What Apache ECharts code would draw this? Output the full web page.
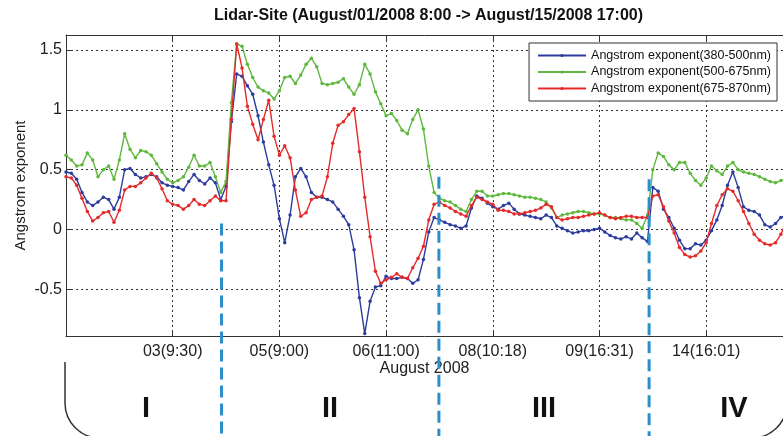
<!DOCTYPE html>
<html><head><meta charset="utf-8">
<script src="https://cdn.jsdelivr.net/npm/echarts@6/dist/echarts.min.js"></script>
<style>html,body{margin:0;padding:0;background:#fff}#c{width:783px;height:436px}</style>
</head><body><div id="c"></div>
<script>
// x ticks (every 20 samples)
const tickLabels = ['', '03(9:30)', '05(9:00)', '06(11:00)', '08(10:18)', '09(16:31)', '14(16:01)'];
const seriesNames = ['Angstrom exponent(380-500nm)', 'Angstrom exponent(500-675nm)', 'Angstrom exponent(675-870nm)'];
const seriesColors = ['#2c3c9e', '#5fb83e', '#e52a2a'];

const blue = [0.48,0.47,0.42,0.31,0.23,0.20,0.23,0.27,0.25,0.17,
0.27,0.50,0.51,0.46,0.43,0.44,0.46,0.44,0.39,0.37,
0.36,0.35,0.33,0.40,0.46,0.41,0.38,0.43,0.39,0.25,
0.36,0.90,1.30,1.28,1.20,1.13,0.95,0.73,0.54,0.37,
0.09,-0.11,0.12,0.44,0.51,0.44,0.31,0.27,0.27,0.25,
0.23,0.17,0.11,0.04,-0.17,-0.57,-0.87,-0.60,-0.48,-0.47,
-0.39,-0.41,-0.41,-0.40,-0.41,-0.45,-0.42,-0.25,-0.02,0.10,
0.08,0.06,0.04,0.03,0.01,0.03,0.18,0.28,0.26,0.22,
0.19,0.17,0.20,0.22,0.17,0.13,0.12,0.11,0.10,0.09,
0.12,0.10,0.03,0.01,-0.01,-0.03,-0.02,-0.01,-0.01,0.00,
0.01,-0.02,-0.05,-0.07,-0.08,-0.06,-0.08,-0.03,-0.07,-0.10,
0.35,0.32,0.17,0.10,0.01,-0.09,-0.16,-0.16,-0.12,-0.13,
-0.09,-0.01,0.08,0.20,0.37,0.48,0.35,0.19,0.16,0.15,
0.12,0.04,0.02,0.05,0.10,0.12];

const green = [0.62,0.58,0.53,0.54,0.64,0.58,0.44,0.50,0.53,0.42,
0.58,0.80,0.67,0.60,0.66,0.65,0.62,0.55,0.48,0.42,
0.39,0.41,0.44,0.52,0.62,0.53,0.53,0.56,0.44,0.31,
0.40,1.06,1.55,1.53,1.38,1.27,1.19,1.16,1.14,1.09,
1.16,1.27,1.28,1.22,1.29,1.38,1.43,1.36,1.22,1.21,
1.22,1.23,1.26,1.19,1.13,1.21,1.38,1.30,1.15,1.05,
0.95,0.97,0.91,0.83,0.80,0.92,1.00,0.84,0.53,0.31,
0.26,0.24,0.23,0.20,0.17,0.15,0.25,0.32,0.32,0.28,
0.28,0.29,0.30,0.30,0.29,0.28,0.27,0.27,0.26,0.25,
0.23,0.18,0.10,0.12,0.13,0.14,0.15,0.15,0.14,0.13,
0.13,0.12,0.10,0.10,0.09,0.08,0.08,0.05,0.01,0.12,
0.50,0.64,0.61,0.54,0.50,0.56,0.56,0.47,0.41,0.37,
0.43,0.53,0.49,0.46,0.53,0.56,0.50,0.48,0.47,0.46,
0.44,0.42,0.40,0.39,0.41,0.42];

const red = [0.44,0.43,0.37,0.26,0.15,0.07,0.10,0.14,0.15,0.06,
0.16,0.33,0.36,0.36,0.39,0.43,0.47,0.43,0.34,0.24,
0.21,0.20,0.17,0.20,0.25,0.21,0.20,0.24,0.28,0.24,
0.24,0.92,1.55,1.35,1.03,0.88,0.75,0.92,1.08,0.78,
0.62,0.70,0.60,0.33,0.11,0.14,0.25,0.27,0.28,0.44,
0.72,0.87,0.90,0.96,1.01,0.65,0.27,-0.06,-0.35,-0.45,
-0.42,-0.40,-0.37,-0.40,-0.41,-0.32,-0.24,-0.14,0.08,0.21,
0.23,0.20,0.18,0.15,0.13,0.11,0.20,0.27,0.25,0.23,
0.21,0.16,0.16,0.15,0.13,0.13,0.14,0.15,0.16,0.18,
0.21,0.19,0.10,0.08,0.09,0.10,0.10,0.11,0.12,0.13,
0.14,0.12,0.10,0.09,0.10,0.11,0.11,0.10,0.10,0.10,
0.28,0.29,0.19,0.07,-0.03,-0.15,-0.21,-0.23,-0.22,-0.18,
-0.11,0.05,0.20,0.29,0.34,0.32,0.24,0.15,0.05,-0.04,
-0.09,-0.12,-0.13,-0.11,-0.04,0.06];

// region boundaries (sample index) and value where each dashed line starts
const boundaries = [29.15, 69.9, 109.3];
const boundaryTops = [0.05, 0.44, 0.42];
const regionNames = ['I', 'II', 'III', 'IV'];
const regionCenters = [15.0, 49.5, 89.6, 125.2];

const FONT = '"Liberation Sans", Arial, sans-serif';
const pairs = arr => arr.map((v, i) => [i, v]);
const allSeries = [blue, green, red];
const X_MAX = 134.4; // visible part of the sample range (plot continues past the right edge)

const chart = echarts.init(document.getElementById('c'), null, {renderer: 'canvas'});
const axisLineStyle = {color: '#333', width: 1};
const option = {
  animation: false,
  backgroundColor: '#fff',
  title: {
    text: 'Lidar-Site (August/01/2008 8:00 -> August/15/2008 17:00)',
    left: 209, top: 3,
    textStyle: {fontFamily: FONT, fontSize: 16, fontWeight: 'bold', color: '#111'}
  },
  grid: {left: 66, top: 35, right: 0, bottom: 100, show: true, borderWidth: 0, backgroundColor: '#fff'},
  legend: {
    orient: 'vertical', right: 6, top: 43,
    data: seriesNames,
    backgroundColor: '#fff', borderColor: '#333', borderWidth: 1,
    padding: [6, 6, 6, 8], itemGap: 3.5, itemWidth: 48, itemHeight: 4,
    textStyle: {fontFamily: FONT, fontSize: 12.5, color: '#111'}
  },
  xAxis: [{
    type: 'value', min: 0, max: X_MAX, interval: 20, position: 'bottom',
    name: 'August 2008', nameLocation: 'middle', nameGap: 25, nameMoveOverlap: false,
    nameTextStyle: {fontFamily: FONT, fontSize: 16, color: '#222'},
    axisLine: {show: true, onZero: false, lineStyle: axisLineStyle},
    axisTick: {show: true, inside: true, length: 6, lineStyle: {color: '#333'}},
    axisLabel: {formatter: v => tickLabels[Math.round(v / 20)] || '', margin: 8, fontFamily: FONT, fontSize: 16, color: '#222', showMaxLabel: false},
    splitLine: {show: true, lineStyle: {type: [2, 3], color: '#333', width: 1}}
  }, {
    type: 'value', min: 0, max: X_MAX, interval: 20, position: 'top',
    axisLine: {show: true, onZero: false, lineStyle: axisLineStyle},
    axisTick: {show: true, inside: true, length: 6, lineStyle: {color: '#333'}},
    axisLabel: {show: false}, splitLine: {show: false}
  }],
  yAxis: {
    type: 'value', min: -0.89, max: 1.625, splitNumber: 5,
    name: 'Angstrom exponent', nameLocation: 'middle', nameGap: 38, nameMoveOverlap: false,
    nameTextStyle: {fontFamily: FONT, fontSize: 15, color: '#222'},
    axisLine: {show: true, onZero: false, lineStyle: axisLineStyle},
    axisTick: {show: true, inside: true, length: 6, lineStyle: {color: '#333'}},
    axisLabel: {margin: 4, fontFamily: FONT, fontSize: 16, color: '#222', showMinLabel: false, showMaxLabel: false},
    splitLine: {show: true, lineStyle: {type: [2, 3], color: '#333', width: 1}}
  },
  series: allSeries.map((arr, k) => ({
    name: seriesNames[k], type: 'line', data: pairs(arr), xAxisIndex: 0,
    symbol: 'circle', symbolSize: 3.5, showSymbol: true, clip: true,
    lineStyle: {color: seriesColors[k], width: 1.4},
    itemStyle: {color: seriesColors[k]},
    z: 2 + k
  }))
};
chart.setOption(option);

const g = [];
// bracket under the axis (open U with rounded corners)
const bStyle = {stroke: '#333', lineWidth: 1.5, fill: null};
g.push({type: 'polyline', z: 50, shape: {points: [[65, 362], [65, 403]]}, style: bStyle});
g.push({type: 'arc', z: 50, shape: {cx: 100, cy: 403, r: 35, startAngle: Math.PI / 2, endAngle: Math.PI, clockwise: true}, style: bStyle});
g.push({type: 'polyline', z: 50, shape: {points: [[100, 438], [752, 438]]}, style: bStyle});
g.push({type: 'arc', z: 50, shape: {cx: 752, cy: 403, r: 35, startAngle: 0, endAngle: Math.PI / 2, clockwise: true}, style: bStyle});
g.push({type: 'polyline', z: 50, shape: {points: [[787, 403], [787, 362]]}, style: bStyle});
boundaries.forEach((b, k) => {
  const p = chart.convertToPixel({xAxisIndex: 0, yAxisIndex: 0}, [b, boundaryTops[k]]);
  g.push({type: 'line', z: 100, shape: {x1: p[0], y1: p[1], x2: p[0], y2: 436},
    style: {stroke: '#2b8fcc', lineWidth: 3, lineDash: [12, 6]}});
});
regionCenters.forEach((c, k) => {
  const p = chart.convertToPixel({xAxisIndex: 0, yAxisIndex: 0}, [c, 0]);
  g.push({type: 'text', z: 100, x: p[0], y: 409,
    style: {text: regionNames[k], font: 'bold 29px "Liberation Sans", Arial, sans-serif', fill: '#111', align: 'center', verticalAlign: 'middle'}});
});
chart.setOption({graphic: g});
</script>
</body></html>
